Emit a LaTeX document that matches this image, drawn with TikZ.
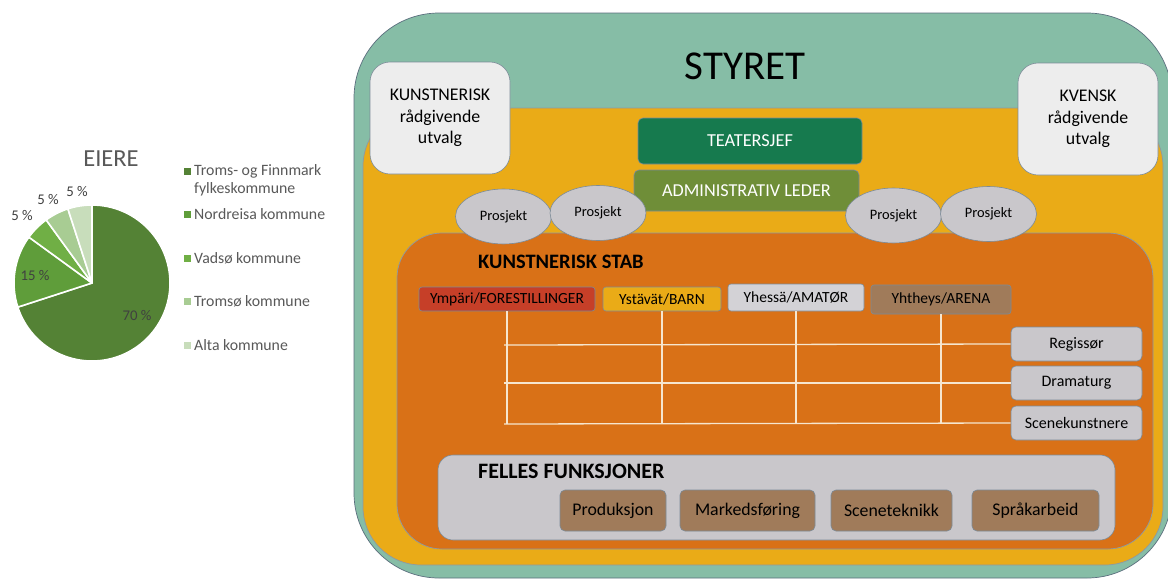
\documentclass[tikz,border=0pt]{standalone}
\usepackage{fontspec}
\setmainfont{Carlito}
\usetikzlibrary{shapes.geometric}
\definecolor{cteal}{HTML}{86BDA6}
\definecolor{cgold}{HTML}{EAAB17}
\definecolor{corange}{HTML}{D97117}
\definecolor{clight}{HTML}{EDEDED}
\definecolor{cgray}{HTML}{C9C7CB}
\definecolor{cdkgreen}{HTML}{167A4E}
\definecolor{colive}{HTML}{6F8E38}
\definecolor{cred}{HTML}{C63F28}
\definecolor{chdrgray}{HTML}{D3D2D6}
\definecolor{cbrown}{HTML}{A07B5A}
\definecolor{cedge}{HTML}{5B6E7E}
\definecolor{cline}{HTML}{F6E6CF}
\definecolor{ctext}{HTML}{595959}
\definecolor{cpietext}{HTML}{404040}
\definecolor{pA}{HTML}{548235}
\definecolor{pB}{HTML}{5F9D3A}
\definecolor{pC}{HTML}{70AF45}
\definecolor{pD}{HTML}{A8CC93}
\definecolor{pE}{HTML}{C8DDBB}
\tikzset{
  container/.style={draw=cedge, line width=0.7pt, inner sep=0pt},
  boxnode/.style={draw=cedge!80, line width=0.6pt, rounded corners=5pt, inner sep=1pt, align=center, text=black},
  prosjekt/.style={ellipse, draw=cedge!80, line width=0.6pt, fill=cgray, minimum width=96pt, minimum height=55pt, inner sep=0pt, font=\fontsize{14.4}{16}\selectfont},
  hdr/.style={boxnode, rounded corners=3pt, font=\fontsize{15.5}{18}\selectfont},
  rolebox/.style={boxnode, fill=cgray, minimum width=131pt, minimum height=34pt, font=\fontsize{16}{18}\selectfont},
  fbox/.style={boxnode, fill=cbrown, minimum height=41pt, font=\fontsize{17.8}{20}\selectfont},
  gridline/.style={draw=cline, line width=1.3pt},
  legtext/.style={anchor=west, text=ctext, font=\fontsize{15.8}{18}\selectfont, inner sep=0pt},
  legsq/.style={minimum size=7pt, inner sep=0pt},
  pielabel/.style={text=cpietext, font=\fontsize{14.8}{17}\selectfont, inner sep=0pt},
  slice/.style={draw=white, line width=1.6pt, line join=round}
}
\begin{document}
\begin{tikzpicture}[x=1pt,y=-1pt]
\clip (0,0) rectangle (1168,579);
\fill[white] (0,0) rectangle (1168,579);

% ---------- pie chart ----------
\coordinate (pc) at (92,283);
\filldraw[slice, fill=pA] (pc) -- ++(-90:78) arc[start angle=-90, end angle=162, radius=78] -- cycle;
\filldraw[slice, fill=pB] (pc) -- ++(162:78) arc[start angle=162, end angle=216, radius=78] -- cycle;
\filldraw[slice, fill=pC] (pc) -- ++(216:78) arc[start angle=216, end angle=234, radius=78] -- cycle;
\filldraw[slice, fill=pD] (pc) -- ++(234:78) arc[start angle=234, end angle=252, radius=78] -- cycle;
\filldraw[slice, fill=pE] (pc) -- ++(252:78) arc[start angle=252, end angle=270, radius=78] -- cycle;
\node[pielabel] (l70) at (137,316) {70 \%};
\node[pielabel] (l15) at (35,276) {15 \%};
\node[pielabel] (l5a) at (22,216) {5 \%};
\node[pielabel] (l5b) at (48,200) {5 \%};
\node[pielabel] (l5c) at (77,192) {5 \%};
\node[text=ctext, font=\fontsize{24.5}{28}\selectfont] (eiere) at (111,159) {EIERE};

\node[legsq, fill=pA] (sq1) at (187,171) {};
\node[legtext] (t1) at (194,171) {Troms- og Finnmark};
\node[legtext] (t1b) at (194,189) {fylkeskommune};
\node[legsq, fill=pB] (sq2) at (187,214) {};
\node[legtext] (t2) at (194,214) {Nordreisa kommune};
\node[legsq, fill=pC] (sq3) at (187,258) {};
\node[legtext] (t3) at (194,258) {Vadsø kommune};
\node[legsq, fill=pD] (sq4) at (187,301) {};
\node[legtext] (t4) at (194,301) {Tromsø kommune};
\node[legsq, fill=pE] (sq5) at (187,345) {};
\node[legtext] (t5) at (194,345) {Alta kommune};

% ---------- containers ----------
\node[container, fill=cteal, rounded corners=85pt, minimum width=818pt, minimum height=565pt] (styret) at (763,295.5) {};
\node[font=\fontsize{41}{45}\selectfont] (styrettxt) at (745,66) {STYRET};
\node[container, draw=cedge!70, fill=cgold, rounded corners=58pt, minimum width=800pt, minimum height=457pt] (leder) at (763,336.5) {};

\node[boxnode, fill=clight, rounded corners=20pt, minimum width=140pt, minimum height=112pt, font=\fontsize{17.8}{21.5}\selectfont] (kun) at (440,118) {KUNSTNERISK\\rådgivende\\utvalg};
\node[boxnode, fill=clight, rounded corners=20pt, minimum width=140pt, minimum height=112pt, font=\fontsize{17.8}{21.5}\selectfont] (kven) at (1088,119) {KVENSK\\rådgivende\\utvalg};

\node[boxnode, fill=cdkgreen, text=white, minimum width=224pt, minimum height=46pt, font=\fontsize{18.3}{20}\selectfont] (teater) at (750,141) {TEATERSJEF};
\node[boxnode, fill=colive, text=white, minimum width=225pt, minimum height=41pt, font=\fontsize{18.2}{20}\selectfont] (admin) at (746.5,190.5) {ADMINISTRATIV LEDER};

\node[container, draw=cedge!70, fill=corange, rounded corners=45pt, minimum width=756pt, minimum height=316pt] (stab) at (775,391) {};

\node[prosjekt] (p1) at (503.5,216.5) {Prosjekt};
\node[prosjekt] (p2) at (598,213) {Prosjekt};
\node[prosjekt] (p3) at (893.5,215.5) {Prosjekt};
\node[prosjekt] (p4) at (988.5,214) {Prosjekt};

\node[anchor=west, inner sep=0pt, font=\fontsize{20.5}{23}\bfseries\selectfont] (stabtxt) at (478,262) {KUNSTNERISK STAB};

\node[hdr, fill=cred, minimum width=176pt, minimum height=24pt] (h1) at (507,299) {Ympäri/FORESTILLINGER};
\node[hdr, fill=cgold, minimum width=118pt, minimum height=24pt] (h2) at (662,299) {Ystävät/BARN};
\node[hdr, fill=chdrgray, minimum width=136pt, minimum height=27pt] (h3) at (796,297.5) {Yhessä/AMATØR};
\node[hdr, fill=cbrown, minimum width=140pt, minimum height=29pt] (h4) at (941,299.5) {Yhtheys/ARENA};

\node[rolebox] (r1) at (1076.5,344) {Regissør};
\node[rolebox] (r2) at (1076.5,383) {Dramaturg};
\node[rolebox] (r3) at (1076.5,423) {Scenekunstnere};

\coordinate (g1) at (504,345);
\coordinate (g2) at (504,383);
\coordinate (g3) at (504,424);
\draw[gridline] (g1) -- (r1.west);
\draw[gridline] (g2) -- (r2.west);
\draw[gridline] (g3) -- (r3.west);
\draw[gridline] (h1.south) -- (h1.south |- g3);
\draw[gridline] (h2.south) -- (h2.south |- g3);
\draw[gridline] (h3.south) -- (h3.south |- g3);
\draw[gridline] (h4.south) -- (h4.south |- g3);

\node[boxnode, fill=cgray, rounded corners=15pt, minimum width=677pt, minimum height=85pt] (felles) at (776.5,497.5) {};
\node[anchor=west, inner sep=0pt, font=\fontsize{22}{25}\bfseries\selectfont] (fellestxt) at (478,471) {FELLES FUNKSJONER};
\node[fbox, minimum width=106pt] (f1) at (613,510.5) {Produksjon};
\node[fbox, minimum width=135pt] (f2) at (747.5,510.5) {Markedsføring};
\node[fbox, minimum width=121pt] (f3) at (891.5,510.5) {Sceneteknikk};
\node[fbox, minimum width=127pt] (f4) at (1035.5,510.5) {Språkarbeid};
\end{tikzpicture}
\end{document}
